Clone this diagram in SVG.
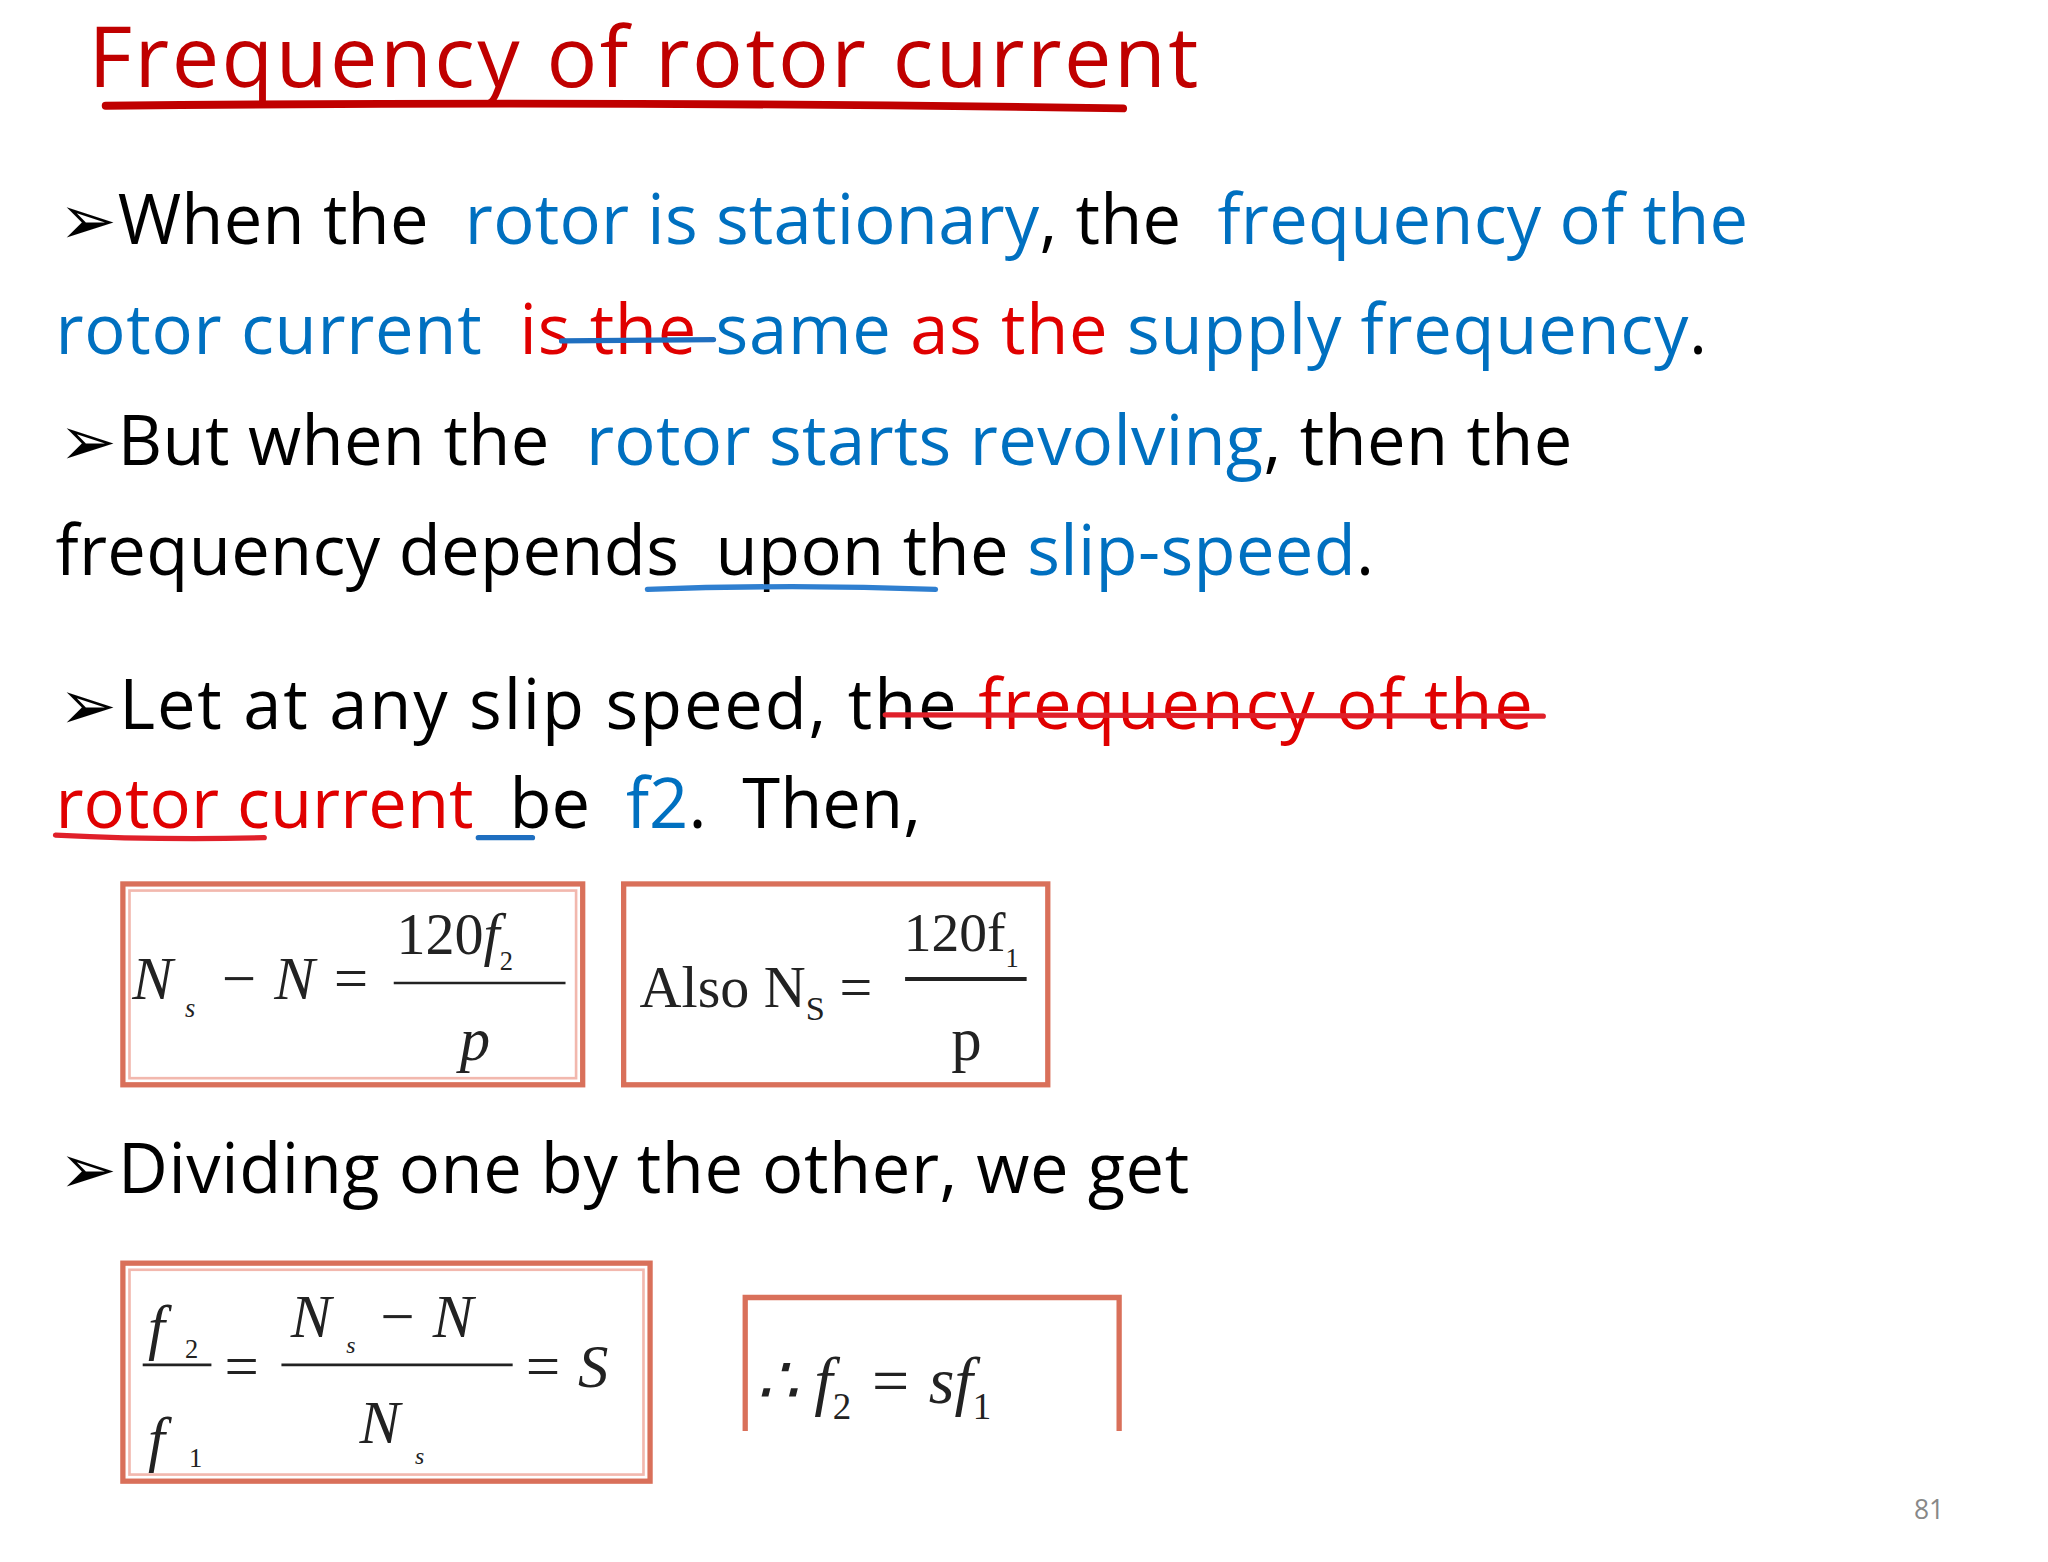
<svg xmlns="http://www.w3.org/2000/svg" width="2048" height="1562" viewBox="0 0 2048 1562">
<style>
.t{font-family:"Open Sans","Noto Sans",sans-serif;font-size:52px;fill:#000;white-space:pre}
.b{fill:#0070c0}.r{fill:#e00000}
.m{font-family:"Liberation Serif",serif;font-style:italic;fill:#222}
.u{font-family:"Liberation Serif",serif;fill:#222}
.box{fill:#fff;stroke:#d9705a;stroke-width:4}
.box2{fill:none;stroke:#f2b8ae;stroke-width:2}
</style>
<rect width="2048" height="1562" fill="#fff"/>
<g transform="scale(1.3213)">
<g id="title">
<text x="67" y="66" font-family="Open Sans,Noto Sans,sans-serif" font-size="64" fill="#c00000" textLength="840" lengthAdjust="spacing">Frequency of rotor current</text>
<path d="M80 80 Q460 76 850 82" stroke="#c00000" stroke-width="6" fill="none" stroke-linecap="round"/>
</g>
<g id="text">
<text class="t" x="45" y="185" textLength="1278" lengthAdjust="spacing">➢When the  <tspan class="b">rotor is stationary</tspan>, the  <tspan class="b">frequency of the</tspan></text>
<text class="t" x="42" y="268" textLength="1250" lengthAdjust="spacing"><tspan class="b">rotor current  </tspan><tspan class="r">is the </tspan><tspan class="b">same </tspan><tspan class="r">as the </tspan><tspan class="b">supply frequency</tspan>.</text>
<text class="t" x="45" y="352" textLength="1145" lengthAdjust="spacing">➢But when the  <tspan class="b">rotor starts revolving</tspan>, then the</text>
<text class="t" x="42" y="435" textLength="998" lengthAdjust="spacing">frequency depends  upon the <tspan class="b">slip-speed</tspan>.</text>
<text class="t" x="45" y="552" textLength="1115" lengthAdjust="spacing">➢Let at any slip speed, the <tspan class="r">frequency of the</tspan></text>
<text class="t" x="42" y="627" textLength="655" lengthAdjust="spacing"><tspan class="r">rotor current </tspan> be  <tspan class="b">f2</tspan>.  Then,</text>
<text class="t" x="45" y="903" textLength="855" lengthAdjust="spacing">➢Dividing one by the other, we get</text>
<text x="1460" y="1150" font-family="Open Sans,sans-serif" font-size="20" fill="#888" text-anchor="middle">81</text>
</g>
<g id="marks" fill="none" stroke-linecap="round">
<path d="M425 258 L540 257" stroke="#1f6fc0" stroke-width="4"/>
<path d="M670 541 L1168 542" stroke="#e0202a" stroke-width="4"/>
<path d="M490 446 Q600 442 708 446" stroke="#2f7fd0" stroke-width="4"/>
<path d="M42 632 Q120 636 200 634" stroke="#e0202a" stroke-width="4"/>
<path d="M362 634 L403 634" stroke="#1f6fc0" stroke-width="4"/>
</g>
<g id="f1">
<rect class="box" x="93" y="669" width="348" height="152"/>
<rect class="box2" x="98" y="674" width="338" height="142"/>
<text class="m" x="100" y="756" font-size="46">N</text><text class="m" x="140" y="770" font-size="20">s</text>
<text class="m" x="165" y="756" font-size="46">− N =</text>
<text class="u" x="300" y="722" font-size="44">120<tspan font-style="italic">f</tspan><tspan font-size="20" dy="12">2</tspan></text>
<line x1="298" y1="744" x2="428" y2="744" stroke="#222" stroke-width="2"/>
<text class="m" x="348" y="802" font-size="46">p</text>
</g>
<g id="f2">
<rect class="box" x="472" y="669" width="321" height="152"/>
<text class="u" x="484" y="762" font-size="44">Also N<tspan font-size="26" dy="10">S</tspan><tspan dy="-10">  =</tspan></text>
<text class="u" x="684" y="720" font-size="42">120f<tspan font-size="20" dy="12">1</tspan></text>
<line x1="685" y1="741" x2="777" y2="741" stroke="#222" stroke-width="3"/>
<text class="u" x="720" y="802" font-size="46">p</text>
</g>
<g id="f3">
<rect class="box" x="93" y="956" width="399" height="165"/>
<rect class="box2" x="98" y="961" width="389" height="155"/>
<text class="m" x="112" y="1020" font-size="46">f</text><text class="u" x="140" y="1028" font-size="20">2</text>
<line x1="108" y1="1033" x2="160" y2="1033" stroke="#222" stroke-width="2"/>
<text class="m" x="112" y="1105" font-size="46">f</text><text class="u" x="143" y="1110" font-size="20">1</text>
<text class="u" x="170" y="1050" font-size="46">=</text>
<text class="m" x="220" y="1012" font-size="46">N</text><text class="m" x="262" y="1024" font-size="18">s</text><text class="m" x="285" y="1012" font-size="46">− N</text>
<line x1="213" y1="1033" x2="388" y2="1033" stroke="#222" stroke-width="2"/>
<text class="m" x="272" y="1092" font-size="46">N</text><text class="m" x="314" y="1108" font-size="18">s</text>
<text class="m" x="395" y="1050" font-size="46">= S</text>
</g>
<g id="f4">
<path d="M564 1083 V982 H847 V1083" class="box"/>
<text class="m" x="572" y="1062" font-size="50">∴ f<tspan class="u" font-style="normal" font-size="28" dy="12">2</tspan><tspan dy="-12"> = sf</tspan><tspan class="u" font-style="normal" font-size="28" dy="12">1</tspan></text>
</g>
</g>
</svg>
